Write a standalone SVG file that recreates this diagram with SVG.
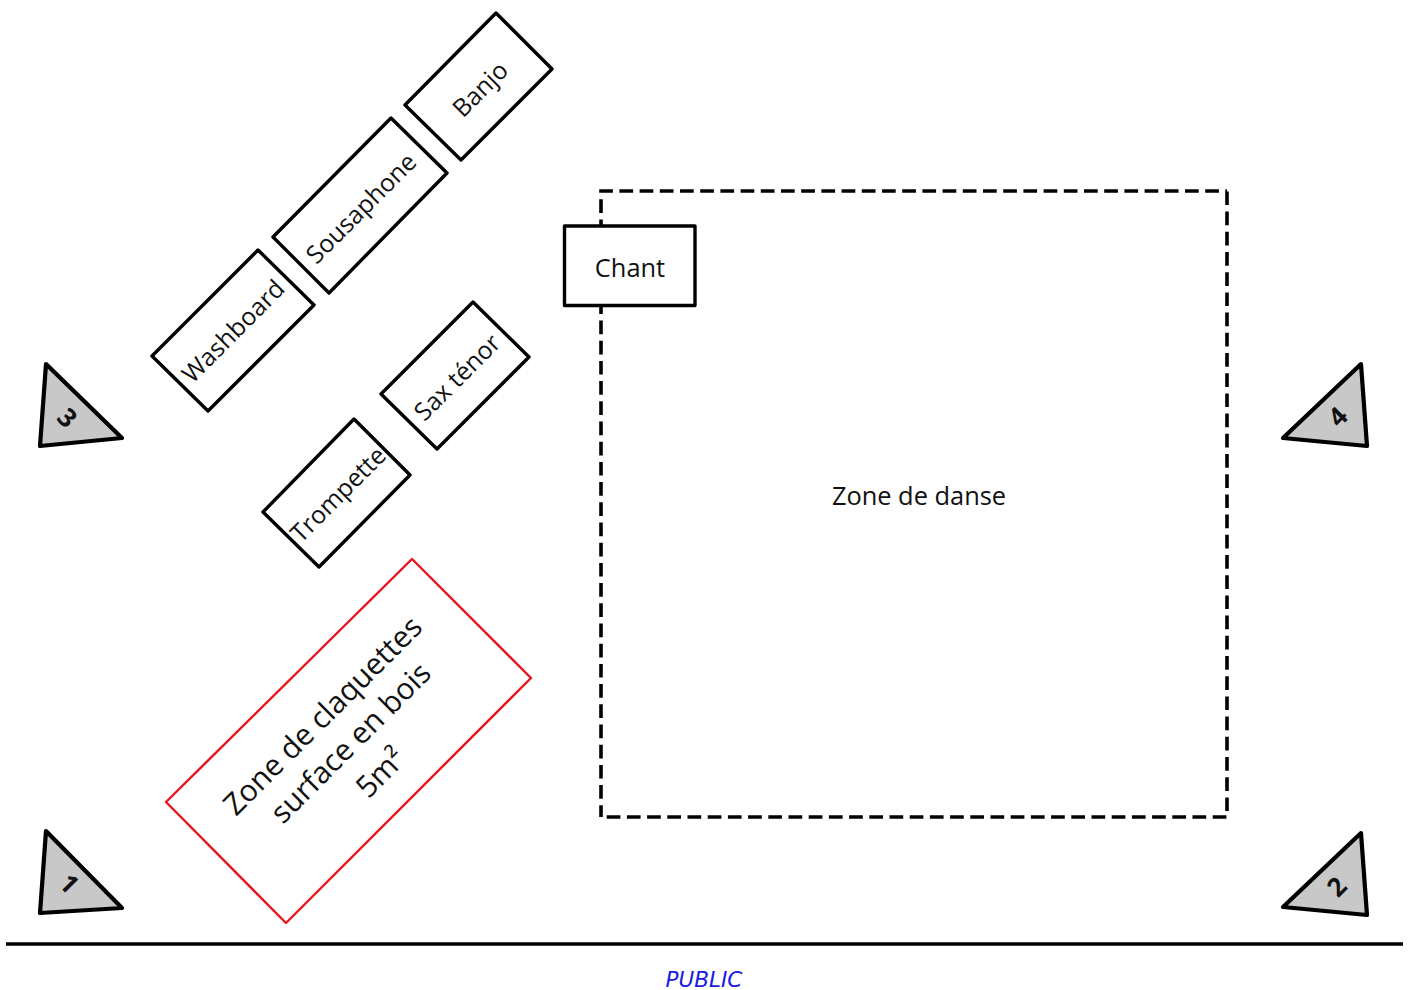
<svg xmlns="http://www.w3.org/2000/svg" width="1408" height="990" viewBox="0 0 1408 990">
<style>
.box{fill:#fff;stroke:#000;stroke-width:3.4;stroke-linejoin:round}
.tri{fill:#c8c8c8;stroke:#000;stroke-width:4.2;stroke-linejoin:round}
.dash{fill:none;stroke:#000;stroke-width:3.6;stroke-dasharray:13.7 6.5}
text{font-family:"Open Sans","Noto Sans","DejaVu Sans",sans-serif;fill:#111;text-anchor:middle}
.l{font-size:25.400px}
.r{font-size:24.800px}
.n{font-size:26px;font-weight:700}
.z{font-size:30px}
</style>
<rect width="1408" height="990" fill="#fff"/>
<g id="zone-danse">
<path class="dash" d="M601 817V191H1227" stroke-dashoffset="2"/>
<path class="dash" d="M601 817H1227V191" stroke-dashoffset="14.500"/>
<text class="l" x="919" y="505">Zone de danse</text>
</g>
<g id="chant">
<rect class="box" x="564.500" y="226" width="130.500" height="79.500"/>
<text class="l" x="630" y="277">Chant</text>
</g>
<g id="banjo">
<polygon class="box" points="496,13 552,69 461,160 405,105"/>
<text class="r" transform="translate(480,89) rotate(-45)" y="9">Banjo</text>
</g>
<g id="sousaphone">
<polygon class="box" points="391,118 447,173 329,293 273,237"/>
<text class="r" transform="translate(361,208) rotate(-45)" y="9">Sousaphone</text>
</g>
<g id="washboard">
<polygon class="box" points="258,250 314,305 208,411 152,356"/>
<text class="r" transform="translate(233,331) rotate(-45)" y="9">Washboard</text>
</g>
<g id="sax-tenor">
<polygon class="box" points="473,302 529,357 437,449 381,394"/>
<text class="r" transform="translate(457,377) rotate(-45)" y="9">Sax ténor</text>
</g>
<g id="trompette">
<polygon class="box" points="354,419 410,475 319,567 263,512"/>
<text class="r" transform="translate(338,494) rotate(-45)" y="9">Trompette</text>
</g>
<g id="zone-claquettes">
<polygon points="412,559 531,678 286,923 166,802" fill="#fff" stroke="#e8141c" stroke-width="2.4" stroke-linejoin="round"/>
<text class="z" transform="translate(330,723) rotate(-45)">Zone de claquettes</text>
<text class="z" transform="translate(358,750) rotate(-45)">surface en bois</text>
<text class="z" transform="translate(388,780) rotate(-45)">5m²</text>
</g>
<g id="enceinte-1">
<polygon class="tri" points="46,831 122,908 40,913"/>
<text class="n" transform="translate(69,884) rotate(45)" y="9">1</text>
</g>
<g id="enceinte-2">
<polygon class="tri" points="1361,833 1283,907 1367,915"/>
<text class="n" transform="translate(1337,887) rotate(-45)" y="9">2</text>
</g>
<g id="enceinte-3">
<polygon class="tri" points="46,364 122,438 40,446"/>
<text class="n" transform="translate(67,418) rotate(45)" y="9">3</text>
</g>
<g id="enceinte-4">
<polygon class="tri" points="1361,364 1283,438 1367,446"/>
<text class="n" transform="translate(1338,417) rotate(-45)" y="9">4</text>
</g>
<g id="public">
<line x1="6" y1="944" x2="1403" y2="944" stroke="#000" stroke-width="3.4"/>
<text x="704" y="987" font-size="21.500" font-style="italic" style="fill:#1a1ae0;font-family:'DejaVu Sans',sans-serif">PUBLIC</text>
</g>
</svg>
